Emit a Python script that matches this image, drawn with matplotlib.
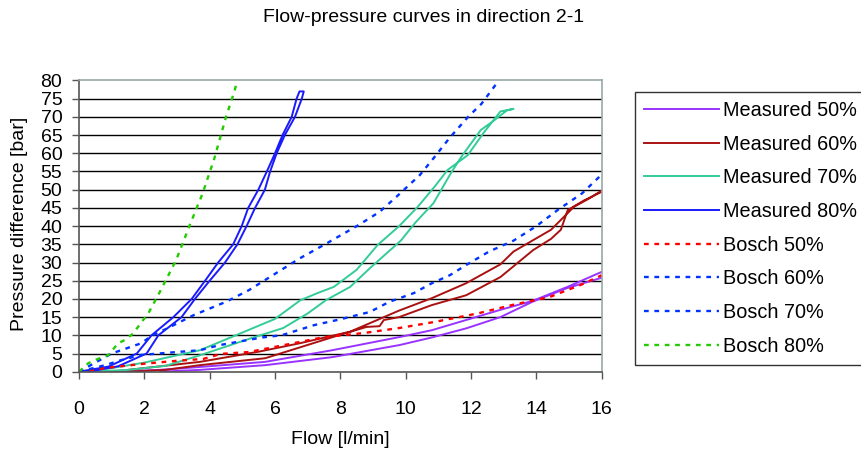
import matplotlib
matplotlib.use('Agg')
import matplotlib.pyplot as plt

plt.rcParams['font.family'] = ['Liberation Sans', 'DejaVu Sans']
plt.rcParams['font.size'] = 14

# measured curves: up branch followed by return branch (hysteresis loop)
m50_flow = [1.0, 2.45, 3.7, 5.7, 7.75, 9.8, 10.8, 11.85, 12.9, 13.9, 14.95, 16.07,
            16.07, 14.95, 13.9, 12.9, 11.85, 10.8, 9.8, 7.75, 5.7, 3.7, 2.5]
m50_p = [0, 0.5, 1.3, 2.7, 5.9, 9.5, 11.4, 14.2, 17, 19.5, 23.3, 27.7,
         26, 23, 19.3, 15, 11.9, 9.4, 7.3, 4, 1.8, 0.5, 0]

m60_flow = [0.0, 1.0, 2.0, 3.7, 5.5, 6.75, 8.3, 9.8, 10.8, 11.85, 12.9, 13.3, 14.45, 15.15, 15.6, 16.13,
            16.13, 15.45, 14.96, 14.75, 14.45, 13.9, 12.9, 11.85, 10.8, 9.8, 9.33, 9.2, 8.8, 7.8, 5.7, 3.7, 2.65, 1.5]
m60_p = [0, 0, 1, 2.7, 5.5, 7.8, 11, 16.8, 20.2, 24.3, 29.5, 33, 39, 45.3, 47.5, 50.5,
         50, 47, 44.4, 39, 36.5, 33.4, 26, 21, 18.3, 15, 14.2, 12.5, 12.3, 9.6, 3.7, 1.8, 0.5, 0]

m70_flow = [0.0, 1.0, 2.0, 3.7, 4.8, 6.0, 6.77, 7.3, 7.8, 8.5, 9.14, 9.8, 10.37, 10.9, 11.28, 11.9, 12.4, 12.9, 13.3,
            13.1, 12.7, 12.3, 11.7, 11.38, 10.85, 10.3, 9.85, 8.9, 8.3, 7.55, 7.0, 6.25, 5.2, 3.7, 2.65, 1.5, 0.3]
m70_p = [0, 1, 2.5, 5.9, 10, 14.5, 19.6, 21.6, 23.3, 28, 34.8, 40, 45.3, 51, 55.4, 59.5, 65.8, 71.5, 72.2,
         71.8, 69, 66.4, 59, 54.5, 46.3, 41, 36, 28.4, 23.3, 19.6, 16, 12, 9, 4.5, 1.6, 0.5, 0]

m80_flow = [0.0, 0.9, 1.77, 2.22, 2.89, 3.45, 3.86, 4.26, 4.72, 4.98, 5.18, 5.49, 5.75, 6.0, 6.23, 6.51, 6.66, 6.75,
            6.88, 6.82, 6.61, 6.3, 6.05, 5.85, 5.69, 5.39, 5.13, 4.85, 4.47, 4.0, 3.55, 3.14, 2.43, 2.07, 1.2, 0.3]
m80_p = [0, 1.4, 5, 10, 15, 20, 25, 30, 35, 40, 45, 50, 55, 60, 65, 70, 75, 77,
         77, 75, 70, 65, 60, 55, 50, 45, 40, 35, 30, 25, 20, 15, 10, 5, 1.5, 0]

# Bosch catalogue curves
b50_flow = [0, 1.0, 2.0, 3.0, 3.8, 4.35, 5.2, 6.1, 7.5, 8.7, 9.8, 10.9, 12.2, 13.25, 14.4, 15.4, 16.0]
b50_p = [0, 1.2, 2.2, 3.0, 3.5, 4.9, 5.4, 7.0, 9.5, 10.6, 12.0, 13.7, 16.0, 18.3, 20.5, 24.0, 26.5]

b60_flow = [0, 0.8, 1.3, 1.9, 2.85, 3.7, 4.3, 5.6, 6.2, 7.2, 8.0, 8.9, 9.5, 10.25, 10.8, 11.35, 11.85,
            12.55, 13.3, 14.0, 14.65, 15.4, 16.05]
b60_p = [0, 1.8, 3.2, 4.6, 5.3, 5.9, 7.3, 9.4, 10.0, 12.8, 14.4, 16.4, 19.2, 21.6, 24.3, 26.5, 29.3,
         33.0, 36.0, 40.0, 44.4, 49.0, 54.6]

b70_flow = [0, 0.5, 1.0, 1.9, 2.2, 2.9, 3.5, 4.5, 5.2, 6.75, 7.57, 8.54, 9.2, 9.71, 10.43, 10.84,
            11.35, 11.91, 12.32, 12.85]
b70_p = [0, 2.5, 5, 7.8, 9.7, 12.8, 15.5, 19.2, 22.4, 31.1, 35.2, 40.2, 43.9, 48, 54, 58.5,
         64.3, 70, 73.6, 80]

b80_flow = [0, 0.28, 0.49, 0.9, 1.2, 1.4, 1.66, 1.92, 2.12, 2.45, 2.97, 3.37, 3.78, 4.14, 4.5, 4.75, 4.83]
b80_p = [0, 2.3, 3.2, 4.6, 7.8, 8.7, 10.5, 13.7, 16, 21.5, 30.6, 39.8, 48.9, 58.5, 70, 76.8, 79.5]

fig = plt.figure(figsize=(8.61, 4.55), dpi=100)
ax = fig.add_axes([79 / 861, 1 - 371.7 / 455, 522.7 / 861, 291.2 / 455])

dots = (0, (2.0, 2.4))
ax.plot(m50_flow, m50_p, color='#9933ff', lw=1.4, label='Measured 50%')
ax.plot(m60_flow, m60_p, color='#aa1111', lw=1.4, label='Measured 60%')
ax.plot(m70_flow, m70_p, color='#33cc99', lw=1.4, label='Measured 70%')
ax.plot(m80_flow, m80_p, color='#1a1aff', lw=1.4, label='Measured 80%')
ax.plot(b50_flow, b50_p, color='#ff0000', lw=1.7, ls=dots, label='Bosch 50%')
ax.plot(b60_flow, b60_p, color='#0033ff', lw=1.7, ls=dots, label='Bosch 60%')
ax.plot(b70_flow, b70_p, color='#0033ff', lw=1.7, ls=dots, label='Bosch 70%')
ax.plot(b80_flow, b80_p, color='#22cc00', lw=1.7, ls=dots, label='Bosch 80%')

ax.set_xlim(0, 16)
ax.set_ylim(0, 80)
ax.set_xticks(range(0, 17, 2))
ax.set_yticks(range(0, 81, 5))
for y in range(5, 80, 5):
    ax.axhline(y, color='black', lw=1.0, zorder=0)

for s in ['left', 'bottom']:
    ax.spines[s].set_color('#555555')
for s in ['top', 'right']:
    ax.spines[s].set_color('#98a8a8')
for s in ax.spines.values():
    s.set_linewidth(1.2)

ax.tick_params(axis='x', length=5, width=1, color='#555555', pad=16, labelsize=14)
ax.tick_params(axis='y', length=5, width=1, color='#555555', pad=7, labelsize=14)

ax.set_xlabel('Flow [l/min]', fontsize=14, va='center')
ax.xaxis.set_label_coords(0.5, (371.7 - 440) / 291.2)
ax.set_ylabel('Pressure difference [bar]', fontsize=14, va='center')
ax.yaxis.set_label_coords((20 - 79) / 522.7, 0.507)

fig.text(424 / 861, 1 - 18 / 455, 'Flow-pressure curves in direction 2-1',
         ha='center', va='center', fontsize=14)

leg = fig.legend(loc='upper left', bbox_to_anchor=(635 / 861, 1 - 92 / 455),
                 borderaxespad=0, fontsize=14.3, frameon=True, fancybox=False,
                 handlelength=3.8, handletextpad=0.2, labelspacing=0.74, borderpad=0.45)
leg.get_frame().set_edgecolor('black')
leg.get_frame().set_linewidth(1.0)

fig.savefig('out.png', dpi=100)
